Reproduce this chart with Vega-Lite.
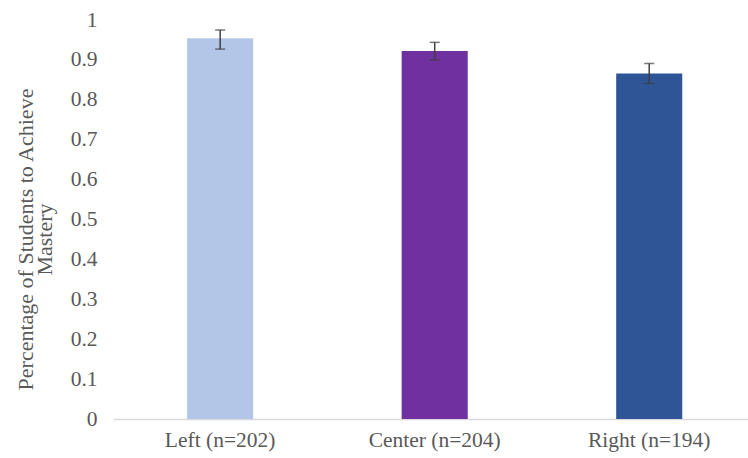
{
  "$schema": "https://vega.github.io/schema/vega-lite/v6.json",
  "autosize": "none",
  "width": 635,
  "height": 399,
  "padding": {"left": 113, "top": 20, "right": 0, "bottom": 39},
  "background": "white",
  "config": {
    "view": {"stroke": null},
    "font": "Liberation Serif",
    "axisY": {
      "values": [0, 0.1, 0.2, 0.3, 0.4, 0.5, 0.6, 0.7, 0.8, 0.9, 1],
      "format": ".1~f",
      "labelOverlap": false,
      "grid": false,
      "domain": false,
      "ticks": false,
      "labelFont": "Liberation Serif",
      "labelFontSize": 21.5,
      "labelColor": "#595959",
      "labelPadding": 16,
      "titleFont": "Liberation Serif",
      "titleFontSize": 22,
      "titleLineHeight": 19,
      "titleFontWeight": "normal",
      "titleColor": "#595959",
      "titlePadding": 14,
      "titleY": 219
    }
  },
  "data": {
    "values": [
      {"group": "Left (n=202)", "value": 0.954, "lo": 0.927, "hi": 0.975, "color": "Left"},
      {"group": "Center (n=204)", "value": 0.922, "lo": 0.900, "hi": 0.944, "color": "Center"},
      {"group": "Right (n=194)", "value": 0.866, "lo": 0.841, "hi": 0.891, "color": "Right"}
    ]
  },
  "encoding": {
    "x": {
      "field": "group",
      "type": "nominal",
      "sort": null,
      "scale": {"paddingInner": 0.692, "paddingOuter": 0.326, "align": 0.53},
      "axis": {
        "title": null,
        "labelAngle": 0,
        "labelFont": "Liberation Serif",
        "labelFontSize": 21.5,
        "labelColor": "#595959",
        "labelPadding": 10,
        "ticks": false,
        "domainColor": "#d9d9d9",
        "domainWidth": 1.5
      }
    }
  },
  "layer": [
    {
      "mark": {"type": "bar"},
      "encoding": {
        "y": {
          "field": "value",
          "type": "quantitative",
          "scale": {"domain": [0, 1], "nice": false},
          "axis": {
            "values": [0, 0.1, 0.2, 0.3, 0.4, 0.5, 0.6, 0.7, 0.8, 0.9, 1],
            "title": ["Percentage of Students to Achieve", "Mastery"]
          }
        },
        "color": {
          "field": "color",
          "type": "nominal",
          "scale": {"domain": ["Left", "Center", "Right"], "range": ["#b4c6e7", "#7030a0", "#2f5597"]},
          "legend": null
        }
      }
    },
    {
      "mark": {"type": "rule", "color": "#404040", "strokeWidth": 1.5},
      "encoding": {
        "y": {"field": "lo", "type": "quantitative", "axis": {"values": [0, 0.1, 0.2, 0.3, 0.4, 0.5, 0.6, 0.7, 0.8, 0.9, 1], "title": ["Percentage of Students to Achieve", "Mastery"]}},
        "y2": {"field": "hi"}
      }
    },
    {
      "mark": {"type": "tick", "color": "#404040", "thickness": 1.5, "size": 10, "orient": "horizontal"},
      "encoding": {
        "y": {"field": "hi", "type": "quantitative", "axis": {"values": [0, 0.1, 0.2, 0.3, 0.4, 0.5, 0.6, 0.7, 0.8, 0.9, 1], "title": ["Percentage of Students to Achieve", "Mastery"]}}
      }
    },
    {
      "mark": {"type": "tick", "color": "#404040", "thickness": 1.5, "size": 10, "orient": "horizontal"},
      "encoding": {
        "y": {"field": "lo", "type": "quantitative", "axis": {"values": [0, 0.1, 0.2, 0.3, 0.4, 0.5, 0.6, 0.7, 0.8, 0.9, 1], "title": ["Percentage of Students to Achieve", "Mastery"]}}
      }
    }
  ]
}
